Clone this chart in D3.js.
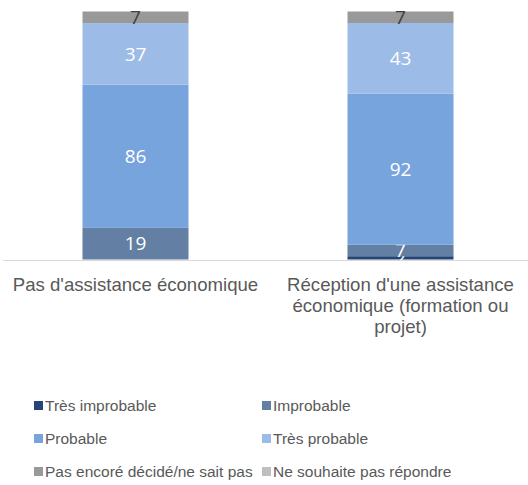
<!DOCTYPE html>
<html>
<head>
<meta charset="utf-8">
<script src="https://cdn.jsdelivr.net/npm/d3@7"></script>
<style>
  body { margin: 0; background: #fff; }
  svg { display: block; }
</style>
</head>
<body>
<div id="chart"></div>
<script>
(function() {
  'use strict';

  // Data.
  var categories = ["Pas d'assistance économique",
                    "Réception d'une assistance économique (formation ou projet)"];
  var series = ["Très improbable", "Improbable", "Probable", "Très probable",
                "Pas encoré décidé/ne sait pas", "Ne souhaite pas répondre"];
  var values = [
    [0, 2],    // Très improbable
    [19, 7],   // Improbable
    [86, 92],  // Probable
    [37, 43],  // Très probable
    [7, 7],    // Pas encore décidé
    [0, 0]     // Ne souhaite pas répondre
  ];
  var colors = ["#264478", "#637fa3", "#77a4dc", "#9cbbe6", "#999999", "#bfbfbf"];
  var labelColors = ["#fff", "#fff", "#fff", "#fff", "#404040", "#404040"];

  var width = 528, height = 485;
  var plot = { left: 3, right: 528, top: 11.5, bottom: 259.5 };

  var svg = d3.select('#chart').append('svg')
    .attr('width', width)
    .attr('height', height);

  // Rows for the stack.
  var rows = categories.map(function(c, i) {
    var r = { cat: c };
    series.forEach(function(s, j) { r[s] = values[j][i]; });
    return r;
  });

  // 100% stacked: every bar fills the plot height.
  var stacked = d3.stack()
    .keys(series)
    .offset(d3.stackOffsetExpand)(rows);

  var x = d3.scaleBand()
    .domain(categories)
    .range([plot.left, plot.left + 530])
    .paddingInner(0.6)
    .paddingOuter(0.3);

  var y = d3.scaleLinear()
    .domain([0, 1])
    .range([plot.bottom, plot.top]);

  var g = svg.selectAll('g.series')
    .data(stacked).enter().append('g')
    .attr('class', 'series')
    .attr('fill', function(d, i) { return colors[i]; });

  g.selectAll('rect')
    .data(function(d) { return d; })
    .enter().append('rect')
    .attr('x', function(d) { return x(d.data.cat); })
    .attr('width', x.bandwidth())
    .attr('y', function(d) { return y(d[1]); })
    .attr('height', function(d) { return y(d[0]) - y(d[1]); });

  // Axis line.
  svg.append('line')
    .attr('x1', plot.left).attr('x2', plot.right)
    .attr('y1', plot.bottom + 1).attr('y2', plot.bottom + 1)
    .attr('stroke', '#d9d9d9')
    .attr('stroke-width', 1);

  // Data labels.
  g.each(function(s, i) {
    d3.select(this).selectAll('text')
      .data(s.filter(function(d) { return d.data[s.key] > 0; }))
      .enter().append('text')
      .attr('x', function(d) { return x(d.data.cat) + x.bandwidth() / 2; })
      .attr('y', function(d) { return (y(d[0]) + y(d[1])) / 2; })
      .attr('dy', '0.35em')
      .attr('text-anchor', 'middle')
      .attr('fill', labelColors[i])
      .style('font-family', '"Open Sans", sans-serif')
      .style('font-size', '19px')
      .text(function(d) { return d.data[s.key]; });
  });

  // Category labels, wrapped.
  var catText = svg.selectAll('text.cat')
    .data(categories).enter().append('text')
    .attr('class', 'cat')
    .attr('x', function(d) { return x(d) + x.bandwidth() / 2; })
    .attr('y', 291)
    .attr('text-anchor', 'middle')
    .attr('fill', '#595959')
    .style('font-family', '"Liberation Sans", Arial, sans-serif')
    .style('font-size', '18.6px');

  catText.each(function(d) {
    var t = d3.select(this);
    var words = d.split(' ');
    var line = [];
    var tspan = t.append('tspan').attr('x', t.attr('x')).attr('dy', 0);
    words.forEach(function(w) {
      line.push(w);
      tspan.text(line.join(' '));
      if (tspan.node().getComputedTextLength() > 255 && line.length > 1) {
        line.pop();
        tspan.text(line.join(' '));
        line = [w];
        tspan = t.append('tspan').attr('x', t.attr('x')).attr('dy', '1.13em').text(w);
      }
    });
  });

  // Legend, two columns.
  var legend = svg.selectAll('g.legend')
    .data(series).enter().append('g')
    .attr('class', 'legend')
    .attr('transform', function(d, i) {
      var col = i % 2, row = Math.floor(i / 2);
      return 'translate(' + (34 + col * 228) + ',' + (406 + row * 33) + ')';
    });

  legend.append('rect')
    .attr('x', 0).attr('y', -5)
    .attr('width', 9).attr('height', 9)
    .attr('fill', function(d, i) { return colors[i]; });

  legend.append('text')
    .attr('x', 11)
    .attr('y', 0)
    .attr('dy', '0.35em')
    .attr('fill', '#595959')
    .style('font-family', '"Liberation Sans", Arial, sans-serif')
    .style('font-size', '15.5px')
    .text(function(d) { return d; });

})();
</script>
</body>
</html>
